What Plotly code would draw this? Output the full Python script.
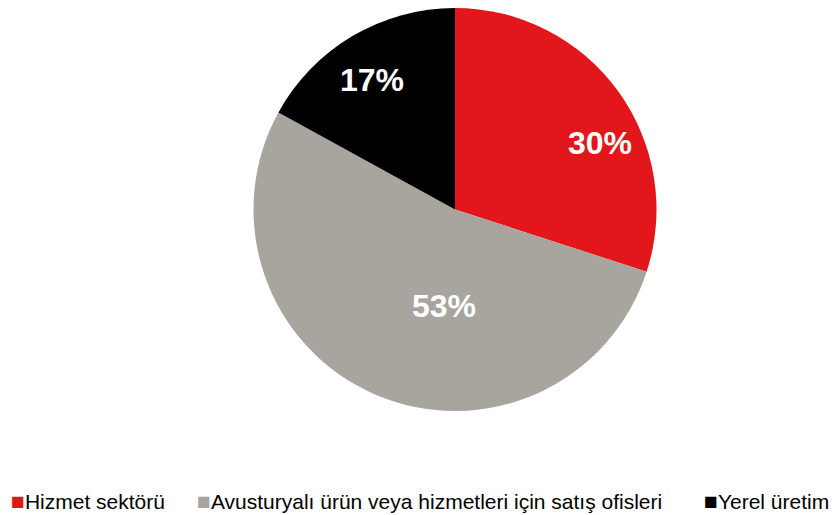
import math
import plotly.graph_objects as go

labels = ["Hizmet sektörü", "Avusturyalı ürün veya hizmetleri için satış ofisleri", "Yerel üretim"]
values = [30, 53, 17]
colors = ["#E3161B", "#A7A59E", "#000000"]

# layout / style (pixel geometry of the figure)
W, H = 838, 515
cx, cy, r = 447, 201.5, 201.5
label_radius = [0.79, 0.48, 0.76]          # fraction of radius for data labels
label_angle_shift = [11.4, -17.0, -2.0]    # best-fit style offset, degrees
legend_x = [1, 187, 694]                   # left edge of each legend entry (px)
legend_y = 493
FONT = "Liberation Sans, Arial, sans-serif"

fig = go.Figure(go.Pie(
    labels=labels, values=values, sort=False, direction="clockwise", rotation=0,
    marker=dict(colors=colors, line=dict(width=0)),
    textinfo="none", showlegend=False,
    domain=dict(x=[(cx - r) / W, (cx + r) / W], y=[1 - (cy + r) / H, 1 - (cy - r) / H]),
    hoverinfo="label+percent",
))

total = sum(values)
annotations = []
cum = 0.0
for i, v in enumerate(values):
    mid = (cum + v / 2) / total * 360.0
    cum += v
    ang = math.radians(mid + label_angle_shift[i])
    rr = label_radius[i] * r
    px = cx + rr * math.sin(ang)
    py = cy - rr * math.cos(ang)
    annotations.append(dict(
        x=px / W, y=1 - py / H, xref="paper", yref="paper",
        text=f"{round(v / total * 100)}%", showarrow=False,
        xanchor="center", yanchor="middle",
        font=dict(family=FONT, size=32, color="white", weight="bold"),
    ))

for i, lab in enumerate(labels):
    annotations.append(dict(
        x=legend_x[i] / W, y=1 - legend_y / H, xref="paper", yref="paper",
        text=f"<span style='color:{colors[i]};font-size:23px'>■</span>{lab}",
        showarrow=False, xanchor="left", yanchor="middle",
        font=dict(family=FONT, size=21, color="#000000"),
    ))

fig.update_layout(
    width=W, height=H,
    margin=dict(l=0, r=0, t=0, b=0),
    paper_bgcolor="white", plot_bgcolor="white",
    font=dict(family=FONT, color="#000000"),
    annotations=annotations,
    showlegend=False,
)
fig.write_html("out.html")
